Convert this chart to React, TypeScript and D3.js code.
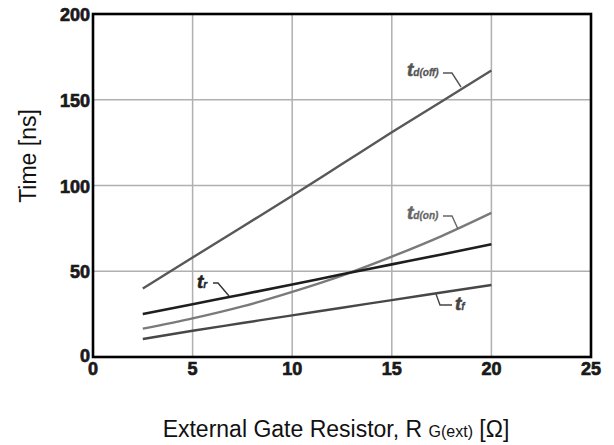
import React from "react";
import * as d3 from "d3";

const xTicks = [0, 5, 10, 15, 20, 25];
const yTicks = [0, 50, 100, 150, 200];
const rg = [2.5, 5, 7.5, 10, 12.5, 15, 17.5, 20];
const tdOff = [40, 58, 76, 94, 112.5, 131, 149, 167];
const tdOn = [16.5, 22.5, 29.5, 38, 47.5, 58.5, 70.5, 84];
const tR = [25, 30.8, 36.5, 42.3, 48.2, 54, 59.8, 65.7];
const tF = [10.5, 15.3, 19.8, 24.3, 28.7, 33.2, 37.6, 42];

const W = 614, H = 445;
const L = 93, R = 591, T = 14, B = 357;
const FONT = "'Liberation Sans', Arial, sans-serif";

export default function App() {
  const x = d3.scaleLinear().domain([0, 25]).range([L, R]);
  const y = d3.scaleLinear().domain([0, 200]).range([B, T]);
  const line = (vals: number[]) =>
    d3.line<number>().x((_, i) => x(rg[i])).y((v) => y(v)).curve(d3.curveMonotoneX)(vals) || "";

  const series = [
    { vals: tdOff, color: "#585858", w: 2.4 },
    { vals: tF, color: "#474747", w: 2.4 },
    { vals: tdOn, color: "#7a7a7a", w: 2.4 },
    { vals: tR, color: "#1e1e1e", w: 2.6 },
  ];

  const labStyle: React.CSSProperties = { fontFamily: FONT, fontWeight: 700, fontStyle: "italic" };
  const tickStyle: React.CSSProperties = { fontFamily: FONT, fontWeight: 700, fontSize: 18 };

  return (
    <svg width={W} height={H} style={{ position: "absolute", left: 0, top: 0, background: "#fff" }}>
      <rect x={0} y={0} width={W} height={H} fill="#fff" />
      {xTicks.slice(1, -1).map((t) => (
        <line key={"gx" + t} x1={x(t)} x2={x(t)} y1={T} y2={B} stroke="#b0b0b0" strokeWidth={1.5} />
      ))}
      {yTicks.slice(1, -1).map((t) => (
        <line key={"gy" + t} x1={L} x2={R} y1={y(t)} y2={y(t)} stroke="#b0b0b0" strokeWidth={1.5} />
      ))}
      {series.map((s, i) => (
        <path key={i} d={line(s.vals)} fill="none" stroke={s.color} strokeWidth={s.w} />
      ))}
      <rect x={L} y={T} width={R - L} height={B - T} fill="none" stroke="#000" strokeWidth={2.6} />
      {yTicks.map((t) => (
        <text key={"ty" + t} x={L - 3} y={y(t) + (t === 0 ? 5 : 7)} textAnchor="end" style={tickStyle} fill="#1a1a1a" stroke="#1a1a1a" strokeWidth={0.7}>{t}</text>
      ))}
      {xTicks.map((t) => (
        <text key={"tx" + t} x={x(t)} y={B + 18} textAnchor="middle" style={tickStyle} fill="#1a1a1a" stroke="#1a1a1a" strokeWidth={0.7}>{t}</text>
      ))}
      <text transform={`translate(36,156) rotate(-90)`} textAnchor="middle" style={{ fontFamily: FONT, fontSize: 23 }} fill="#111">Time [ns]</text>
      <text x={336} y={437} textAnchor="middle" style={{ fontFamily: FONT, fontSize: 23 }} fill="#111">
        External Gate Resistor, R <tspan style={{ fontSize: 16 }}>G(ext)</tspan> [Ω]
      </text>

      {/* labels */}
      <g style={labStyle}>
        <text x={407} y={76} fontSize={19} fill="#555" stroke="#555" strokeWidth={0.6}>t<tspan fontSize={10} strokeWidth={0.3}>d(off)</tspan></text>
        <path d="M443,73 L452,73 L461,87" fill="none" stroke="#555" strokeWidth={1.4} />
        <text x={407} y={219} fontSize={19} fill="#666" stroke="#666" strokeWidth={0.6}>t<tspan fontSize={10} strokeWidth={0.3}>d(on)</tspan></text>
        <path d="M443,216 L452,216 L458,229" fill="none" stroke="#666" strokeWidth={1.4} />
        <text x={197} y={288} fontSize={19} fill="#222" stroke="#222" strokeWidth={0.6}>t<tspan fontSize={10} strokeWidth={0.3}>r</tspan></text>
        <path d="M213,283 L218,283 L229,296" fill="none" stroke="#333" strokeWidth={1.4} />
        <text x={455} y={310} fontSize={19} fill="#444" stroke="#444" strokeWidth={0.6}>t<tspan fontSize={10} strokeWidth={0.3}>f</tspan></text>
        <path d="M436,294 L440,305 L452,305" fill="none" stroke="#444" strokeWidth={1.4} />
      </g>
    </svg>
  );
}
